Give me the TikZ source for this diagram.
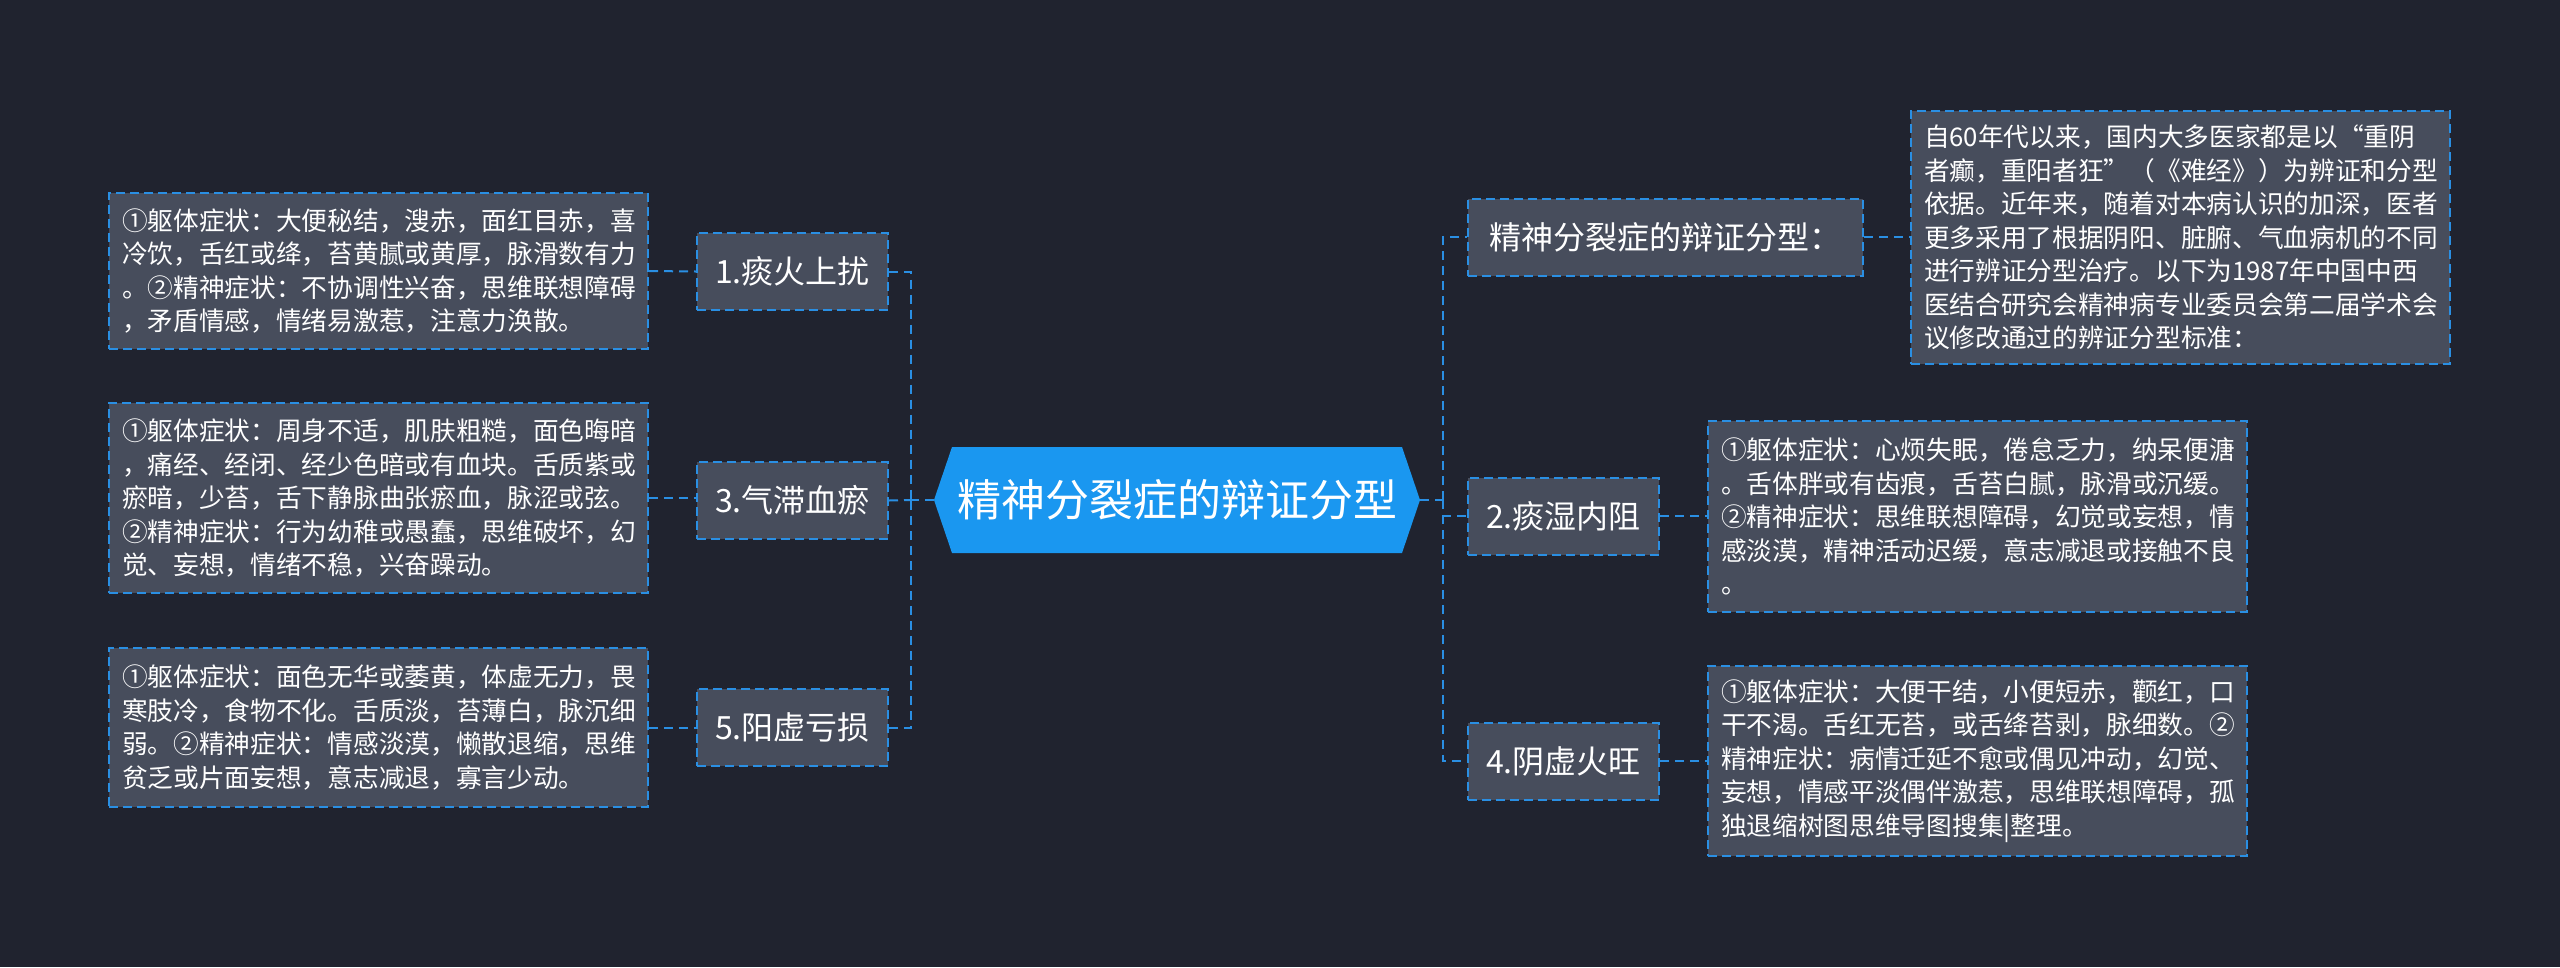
\documentclass[tikz,border=0pt]{standalone}
\usepackage{fontspec}
\setmainfont{Noto Sans CJK SC}
\definecolor{bg}{HTML}{20232F}
\definecolor{boxgray}{HTML}{474D5C}
\definecolor{lineblue}{HTML}{2A8FE3}
\definecolor{cblue}{HTML}{1A97F0}
\begin{document}
\begin{tikzpicture}[x=1pt,y=-1pt,
  link/.style={draw=lineblue, line width=2pt, dash pattern=on 9pt off 6pt},
  topic/.style={draw=lineblue, line width=2pt, dash pattern=on 9pt off 5pt, fill=boxgray, text=white,
    font=\fontsize{32}{38}\selectfont, inner sep=0pt, minimum height=77pt},
  detail/.style={draw=lineblue, line width=2pt, dash pattern=on 9pt off 5pt, fill=boxgray, text=white,
    font=\fontsize{25.7}{33.5}\selectfont, align=left, text width=513pt, inner xsep=13pt, inner ysep=0pt}
]
\useasboundingbox[fill=bg] (0,0) rectangle (2560,967);

% central topic
\path[fill=cblue] (934,500) -- (952,447) -- (1402,447) -- (1420,500) -- (1402,553) -- (952,553) -- cycle;
\node (c) at (1177,500) [minimum width=486pt, minimum height=106pt, inner sep=0pt, text=white,
  font=\fontsize{44}{52}\selectfont] {精神分裂症的辩证分型};

% left topics
\node[topic, minimum width=191pt] (n1) at (792.5,271.5) {1.痰火上扰};
\node[topic, minimum width=191pt] (n3) at (792.5,500.5) {3.气滞血瘀};
\node[topic, minimum width=191pt] (n5) at (792.5,727.5) {5.阳虚亏损};

% right topics
\node[topic, minimum width=395pt] (m0) at (1665.5,237) {精神分裂症的辩证分型：};
\node[topic, minimum width=191pt] (n2) at (1563.5,516) {2.痰湿内阻};
\node[topic, minimum width=191pt] (n4) at (1563.5,761) {4.阴虚火旺};

% left details
\node[detail, minimum height=156pt] (d1) at (378.5,271) {①躯体症状：大便秘结，溲赤，面红目赤，喜\\冷饮，舌红或绛，苔黄腻或黄厚，脉滑数有力\\。②精神症状：不协调性兴奋，思维联想障碍\\，矛盾情感，情绪易激惹，注意力涣散。};
\node[detail, minimum height=190pt] (d3) at (378.5,498) {①躯体症状：周身不适，肌肤粗糙，面色晦暗\\，痛经、经闭、经少色暗或有血块。舌质紫或\\瘀暗，少苔，舌下静脉曲张瘀血，脉涩或弦。\\②精神症状：行为幼稚或愚蠢，思维破坏，幻\\觉、妄想，情绪不稳，兴奋躁动。};
\node[detail, minimum height=159pt] (d5) at (378.5,727.5) {①躯体症状：面色无华或萎黄，体虚无力，畏\\寒肢冷，食物不化。舌质淡，苔薄白，脉沉细\\弱。②精神症状：情感淡漠，懒散退缩，思维\\贫乏或片面妄想，意志减退，寡言少动。};

% right details
\node[detail, minimum height=253pt] (d0) at (2180.5,237.5) {自60年代以来，国内大多医家都是以“重阴\\者癫，重阳者狂”（《难经》）为辨证和分型\\依据。近年来，随着对本病认识的加深，医者\\更多采用了根据阴阳、脏腑、气血病机的不同\\进行辨证分型治疗。以下为1987年中国中西\\医结合研究会精神病专业委员会第二届学术会\\议修改通过的辨证分型标准：};
\node[detail, minimum height=191pt] (d2) at (1977.5,516.5) {①躯体症状：心烦失眠，倦怠乏力，纳呆便溏\\。舌体胖或有齿痕，舌苔白腻，脉滑或沉缓。\\②精神症状：思维联想障碍，幻觉或妄想，情\\感淡漠，精神活动迟缓，意志减退或接触不良\\。};
\node[detail, minimum height=190pt] (d4) at (1977.5,761) {①躯体症状：大便干结，小便短赤，颧红，口\\干不渴。舌红无苔，或舌绛苔剥，脉细数。②\\精神症状：病情迁延不愈或偶见冲动，幻觉、\\妄想，情感平淡偶伴激惹，思维联想障碍，孤\\独退缩树图思维导图搜集|整理。};

% connectors left
\coordinate (lt) at (911,500);
\draw[link] (c.west) -- (lt);
\draw[link] (n1.east) -| (lt);
\draw[link] (n3.east) -- (lt);
\draw[link] (n5.east) -| (lt);
\draw[link] (d1.east) -- (n1.west);
\draw[link] (d3.east) -- (d3.east -| n3.west);
\draw[link] (d5.east) -- (n5.west);

% connectors right
\coordinate (rt) at (1443,500);
\draw[link] (c.east) -- (rt);
\draw[link] (rt) |- (m0.west);
\draw[link] (rt) |- (n2.west);
\draw[link] (rt) |- (n4.west);
\draw[link] (m0.east) -- (d0.west |- m0.east);
\draw[link] (n2.east) -- (d2.west |- n2.east);
\draw[link] (n4.east) -- (d4.west);
\end{tikzpicture}
\end{document}
